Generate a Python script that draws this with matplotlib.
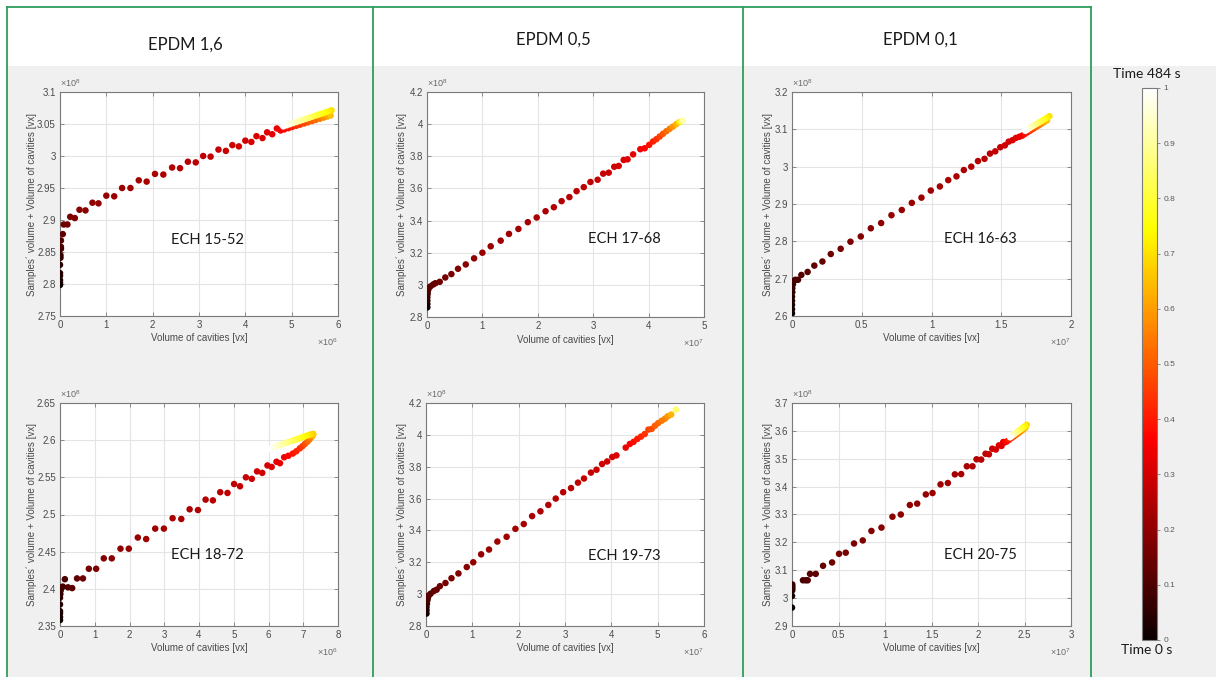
import numpy as np
import matplotlib
matplotlib.use("Agg")
import matplotlib.pyplot as plt
from matplotlib.lines import Line2D
from matplotlib.patches import Rectangle
from matplotlib.ticker import FuncFormatter, MultipleLocator
from matplotlib.cm import ScalarMappable
from matplotlib.colors import Normalize

# ---------------------------------------------------------------------------
# Measurements: volume of cavities (vx), sample + cavities volume (vx) and
# normalised time (0 = 0 s, 1 = 484 s) for each specimen, in time order.
# ---------------------------------------------------------------------------
groups = ["EPDM 1,6", "EPDM 0,5", "EPDM 0,1"]

# ECH 15-52 (cavities in 1e6 vx, total in 1e8 vx)
ech1552_cav = [0, 0, 0, 0, 0, 0, 0.01, 0.01, 0.02, 0.02, 0.02, 0.06, 0.08, 0.16, 0.22,
               0.32, 0.42, 0.55, 0.70, 0.83, 1.00, 1.17, 1.34, 1.52, 1.70, 1.87, 2.05,
               2.23, 2.42, 2.59, 2.76, 2.93, 3.09, 3.25, 3.42, 3.58, 3.72, 3.86, 4.00,
               4.13, 4.24, 4.37, 4.47, 4.58, 4.68,
               4.76, 4.84, 4.93, 5.01, 5.10, 5.18, 5.27, 5.35, 5.44, 5.52, 5.61, 5.69,
               5.77, 5.84,
               5.86, 5.80, 5.73, 5.66, 5.59, 5.52, 5.45, 5.38, 5.31, 5.24, 5.17, 5.10,
               5.03, 4.96, 4.89, 4.82]
ech1552_tot = [2.7985, 2.802, 2.806, 2.813, 2.817, 2.830, 2.841, 2.845, 2.855, 2.858,
               2.868, 2.878, 2.893, 2.893, 2.905, 2.903, 2.916, 2.915, 2.927, 2.926,
               2.938, 2.937, 2.950, 2.950, 2.962, 2.960, 2.972, 2.971, 2.982, 2.981,
               2.991, 2.990, 3.000, 2.999, 3.010, 3.008, 3.017, 3.015, 3.024, 3.022,
               3.031, 3.028, 3.037, 3.034, 3.043,
               3.0399, 3.0416, 3.0435, 3.0453, 3.0472, 3.0489, 3.0509, 3.0526, 3.0546,
               3.0563, 3.0582, 3.0600, 3.0617, 3.0632,
               3.0714, 3.0699, 3.0682, 3.0665, 3.0649, 3.0632, 3.0615, 3.0598, 3.0581,
               3.0564, 3.0547, 3.0530, 3.0514, 3.0497, 3.0480, 3.0463]
ech1552_t = [0.00, 0.01, 0.02, 0.03, 0.04, 0.05, 0.06, 0.07, 0.08, 0.09, 0.10,
             0.13, 0.145, 0.16, 0.17, 0.18, 0.19, 0.195, 0.20, 0.205, 0.21, 0.215, 0.22,
             0.225, 0.23, 0.235, 0.24, 0.245, 0.25, 0.255, 0.26, 0.265, 0.27, 0.275,
             0.28, 0.285, 0.29, 0.295, 0.30, 0.305, 0.31, 0.315, 0.32, 0.33, 0.34,
             0.35, 0.37, 0.39, 0.41, 0.43, 0.45, 0.47, 0.49, 0.51, 0.53, 0.55, 0.58,
             0.61, 0.65,
             0.70, 0.72, 0.74, 0.76, 0.78, 0.80, 0.82, 0.84, 0.86, 0.88, 0.90, 0.92,
             0.94, 0.96, 0.98, 1.00]

# ECH 18-72 (cavities in 1e6 vx, total in 1e8 vx)
ech1872_cav = [0, 0, 0, 0, 0, 0, 0.01, 0.02, 0.04, 0.08, 0.14, 0.23, 0.35,
               0.49, 0.66, 0.83, 1.04, 1.26, 1.49, 1.74, 1.98, 2.24, 2.48, 2.74, 2.99,
               3.24, 3.49, 3.73, 3.97, 4.19, 4.40, 4.61, 4.82, 5.01, 5.18, 5.35, 5.52,
               5.67, 5.82, 5.97, 6.09, 6.23, 6.33, 6.45, 6.57, 6.70, 6.80, 6.90, 6.98,
               7.05, 7.12, 7.18, 7.23, 7.27, 7.29,
               7.28, 7.20, 7.12, 7.04, 6.96, 6.88, 6.80, 6.72, 6.64, 6.56, 6.48, 6.40,
               6.32, 6.24, 6.16, 6.08, 6.00]
ech1872_tot = [2.358, 2.362, 2.367, 2.370, 2.379, 2.388, 2.393, 2.398, 2.402, 2.403,
               2.413, 2.402, 2.401,
               2.414, 2.414, 2.427, 2.427, 2.441, 2.441, 2.454, 2.454, 2.469, 2.467,
               2.481, 2.481, 2.495, 2.494, 2.507, 2.506, 2.520, 2.519, 2.530, 2.529,
               2.541, 2.538, 2.550, 2.548, 2.558, 2.556, 2.566, 2.564, 2.571, 2.569,
               2.577, 2.579, 2.582, 2.585, 2.589, 2.592, 2.595, 2.598, 2.601, 2.604,
               2.606, 2.608,
               2.6085, 2.6075, 2.6063, 2.6050, 2.6037, 2.6024, 2.6011, 2.5998, 2.5985,
               2.5972, 2.5959, 2.5946, 2.5933, 2.5920, 2.5907, 2.5894, 2.5881]
ech1872_t = [0.00, 0.01, 0.02, 0.03, 0.04, 0.05, 0.06, 0.07, 0.08, 0.09, 0.10, 0.11, 0.12,
             0.13, 0.145, 0.16, 0.17, 0.18, 0.19, 0.20, 0.21, 0.215, 0.22, 0.225, 0.23,
             0.235, 0.24, 0.245, 0.25, 0.255, 0.26, 0.265, 0.27, 0.275, 0.28, 0.285, 0.29,
             0.295, 0.30, 0.305, 0.31, 0.32, 0.33, 0.35, 0.37, 0.39, 0.41, 0.43, 0.45,
             0.48, 0.51, 0.54, 0.57, 0.61, 0.65,
             0.68, 0.70, 0.72, 0.74, 0.76, 0.78, 0.80, 0.82, 0.84, 0.86, 0.88, 0.90,
             0.92, 0.94, 0.96, 0.98, 1.00]

# ECH 17-68 (cavities in 1e7 vx, total in 1e8 vx)
ech1768_cav = [0.006, 0.006, 0.006, 0.006, 0.012, 0.018, 0.03, 0.06, 0.11, 0.15,
               0.23, 0.33, 0.44, 0.56, 0.70, 0.85, 1.00, 1.15, 1.33, 1.48, 1.65, 1.82,
               1.98, 2.14, 2.29, 2.43, 2.57, 2.70, 2.83, 2.95, 3.08, 3.18, 3.28, 3.38,
               3.46, 3.55, 3.62, 3.72, 3.85, 3.93, 4.01, 4.08, 4.14, 4.20, 4.26, 4.32,
               4.38, 4.44, 4.50, 4.55, 4.59, 4.62]
ech1768_tot = [2.860, 2.881, 2.902, 2.923, 2.944, 2.965, 2.979, 2.990, 3.002, 3.010,
               3.019, 3.046, 3.067, 3.100, 3.127, 3.165, 3.200, 3.240, 3.275, 3.317,
               3.348, 3.390, 3.419, 3.458, 3.483, 3.521, 3.546, 3.583, 3.608, 3.640,
               3.654, 3.692, 3.698, 3.735, 3.740, 3.777, 3.781, 3.812, 3.844, 3.850,
               3.871, 3.892, 3.906, 3.923, 3.940, 3.956, 3.971, 3.985, 4.000, 4.012,
               4.018, 4.022]
ech1768_t = [0.00, 0.02, 0.04, 0.06, 0.08, 0.10, 0.11, 0.12, 0.13, 0.14, 0.15, 0.16, 0.17,
             0.18, 0.19, 0.20, 0.21, 0.215, 0.22, 0.225, 0.23, 0.235, 0.24, 0.245, 0.25,
             0.255, 0.26, 0.265, 0.27, 0.275, 0.28, 0.285, 0.29, 0.295, 0.30, 0.31, 0.32,
             0.33, 0.35, 0.37, 0.39, 0.41, 0.43, 0.46, 0.49, 0.52, 0.55, 0.59, 0.63,
             0.70, 0.80, 0.92]

# ECH 19-73 (cavities in 1e7 vx, total in 1e8 vx)
ech1973_cav = [0.01, 0.01, 0.01, 0.02, 0.03, 0.04, 0.06, 0.10, 0.17, 0.23, 0.30, 0.42,
               0.55, 0.70, 0.88, 1.02, 1.19, 1.36, 1.54, 1.74, 1.93, 2.11, 2.29, 2.47,
               2.64, 2.80, 2.96, 3.13, 3.28, 3.41, 3.56, 3.68, 3.80, 3.91, 4.02, 4.11,
               4.31, 4.40, 4.48, 4.56, 4.64, 4.72, 4.80, 4.87, 4.94, 5.01, 5.09, 5.16,
               5.22, 5.29, 5.39]
ech1973_tot = [2.878, 2.899, 2.919, 2.940, 2.961, 2.977, 2.992, 3.003, 3.020, 3.028,
               3.050, 3.070, 3.100, 3.130, 3.170, 3.200, 3.250, 3.280, 3.330, 3.360,
               3.410, 3.440, 3.490, 3.520, 3.560, 3.600, 3.640, 3.666, 3.700, 3.726,
               3.763, 3.781, 3.817, 3.833, 3.861, 3.871, 3.920, 3.943, 3.956, 3.974,
               3.989, 4.005, 4.033, 4.037, 4.057, 4.074, 4.089, 4.102, 4.117, 4.127,
               4.158]
ech1973_t = [0.00, 0.02, 0.04, 0.06, 0.08, 0.10, 0.11, 0.12, 0.13, 0.14, 0.15, 0.16, 0.17,
             0.18, 0.19, 0.20, 0.21, 0.215, 0.22, 0.225, 0.23, 0.235, 0.24, 0.245, 0.25,
             0.255, 0.26, 0.265, 0.27, 0.275, 0.28, 0.285, 0.29, 0.295, 0.30, 0.31, 0.34,
             0.36, 0.38, 0.40, 0.42, 0.44, 0.46, 0.48, 0.50, 0.52, 0.54, 0.56, 0.59,
             0.63, 0.85]

# ECH 16-63 (cavities in 1e7 vx, total in 1e8 vx)
ech1663_cav = [0.0, 0.0, 0.0, 0.0, 0.0, 0.002, 0.002, 0.007, 0.012, 0.024, 0.043, 0.067,
               0.112, 0.160, 0.218, 0.278, 0.349, 0.419, 0.493, 0.565, 0.639, 0.713,
               0.787, 0.859, 0.928, 0.995, 1.060, 1.120, 1.179, 1.232, 1.285, 1.333,
               1.380, 1.419, 1.457, 1.493, 1.526, 1.553, 1.581, 1.605, 1.629, 1.650,
               1.668, 1.688, 1.708, 1.728, 1.748, 1.768, 1.788, 1.808, 1.828,
               1.845, 1.828, 1.810, 1.792, 1.774, 1.756, 1.738, 1.720, 1.702, 1.686, 1.672]
ech1663_tot = [2.607, 2.618, 2.630, 2.641, 2.652, 2.664, 2.674, 2.685, 2.694, 2.697,
               2.697, 2.710, 2.718, 2.735, 2.746, 2.766, 2.780, 2.799, 2.813, 2.835,
               2.849, 2.870, 2.884, 2.903, 2.917, 2.936, 2.947, 2.964, 2.974, 2.991,
               3.000, 3.015, 3.021, 3.035, 3.041, 3.052, 3.057, 3.067, 3.071, 3.077,
               3.080, 3.083,
               3.0874, 3.0920, 3.0965, 3.1011, 3.1057, 3.1103, 3.1149, 3.1194, 3.1240,
               3.135, 3.131, 3.127, 3.123, 3.119, 3.115, 3.111, 3.107, 3.103, 3.099, 3.096]
ech1663_t = [0.00, 0.01, 0.02, 0.03, 0.04, 0.05, 0.06, 0.07, 0.08, 0.09, 0.10, 0.11, 0.12,
             0.13, 0.14, 0.15, 0.16, 0.17, 0.18, 0.19, 0.20, 0.205, 0.21, 0.215, 0.22,
             0.225, 0.23, 0.235, 0.24, 0.245, 0.25, 0.255, 0.26, 0.265, 0.27, 0.28, 0.29,
             0.30, 0.31, 0.32, 0.33, 0.34,
             0.38, 0.41, 0.44, 0.47, 0.50, 0.53, 0.57, 0.61, 0.65,
             0.70, 0.73, 0.76, 0.79, 0.82, 0.85, 0.88, 0.91, 0.94, 0.97, 1.00]

# ECH 20-75 (cavities in 1e7 vx, total in 1e8 vx)
ech2075_cav = [0.0, 0.0, 0.003, 0.003, 0.003, 0.003, 0.118, 0.147, 0.169, 0.194, 0.255,
               0.334, 0.431, 0.506, 0.578, 0.667, 0.761, 0.854, 0.962, 1.080, 1.170,
               1.267, 1.346, 1.439, 1.511, 1.597, 1.676, 1.751, 1.819, 1.880, 1.941,
               1.984, 2.034, 2.081, 2.117, 2.153, 2.192, 2.225, 2.253, 2.271, 2.290,
               2.310, 2.335, 2.360, 2.385, 2.410, 2.435, 2.460, 2.485, 2.510,
               2.525, 2.505, 2.485, 2.465, 2.445, 2.425, 2.405, 2.385, 2.365, 2.345]
ech2075_tot = [2.966, 3.008, 3.028, 3.035, 3.042, 3.049, 3.064, 3.064, 3.064, 3.087,
               3.087, 3.116, 3.128, 3.159, 3.163, 3.196, 3.207, 3.241, 3.253, 3.292,
               3.300, 3.334, 3.339, 3.372, 3.377, 3.408, 3.413, 3.444, 3.445, 3.473,
               3.473, 3.498, 3.497, 3.518, 3.516, 3.536, 3.533, 3.548, 3.546, 3.560,
               3.559,
               3.562, 3.568, 3.574, 3.580, 3.586, 3.592, 3.598, 3.604, 3.611,
               3.622, 3.617, 3.612, 3.607, 3.602, 3.597, 3.592, 3.587, 3.582, 3.577]
ech2075_t = [0.00, 0.02, 0.04, 0.05, 0.06, 0.07, 0.09, 0.10, 0.11, 0.12, 0.13, 0.14, 0.15,
             0.16, 0.165, 0.17, 0.175, 0.18, 0.185, 0.19, 0.195, 0.20, 0.205, 0.21, 0.215,
             0.22, 0.225, 0.23, 0.235, 0.24, 0.245, 0.25, 0.26, 0.27, 0.28, 0.29, 0.30,
             0.31, 0.32, 0.33, 0.34,
             0.38, 0.41, 0.44, 0.47, 0.50, 0.53, 0.57, 0.61, 0.65,
             0.70, 0.73, 0.76, 0.79, 0.82, 0.85, 0.88, 0.91, 0.94, 1.00]

time_end_s = 484
cbar_ticks = [0, 0.1, 0.2, 0.3, 0.4, 0.5, 0.6, 0.7, 0.8, 0.9, 1]

# ---------------------------------------------------------------------------
# Layout (pixel boxes: left, top, right, bottom) and styling
# ---------------------------------------------------------------------------
W, H, DPI = 1216, 677, 100
plt.rcParams["mathtext.default"] = "regular"

AX_FONT = "Liberation Sans"
TXT_FONT = "Lato"
GREEN = "#2f9e5c"
PANEL_GRAY = "#f0f0f0"
AX_GRAY = "#7a7a7a"
TICK_TXT = "#4a4a4a"

panels = [
    dict(name="ECH 15-52", cav=ech1552_cav, tot=ech1552_tot, t=ech1552_t, xexp=6,
         xmax=6, xstep=1, ylim=(2.75, 3.1), ystep=0.05,
         box=(60, 92, 338, 316), ylab_x=-0.084, name_pos=(0.529, 0.339)),
    dict(name="ECH 18-72", cav=ech1872_cav, tot=ech1872_tot, t=ech1872_t, xexp=6,
         xmax=8, xstep=1, ylim=(2.35, 2.65), ystep=0.05,
         box=(60, 403, 338, 626), ylab_x=-0.084, name_pos=(0.529, 0.318)),
    dict(name="ECH 17-68", cav=ech1768_cav, tot=ech1768_tot, t=ech1768_t, xexp=7,
         xmax=5, xstep=1, ylim=(2.8, 4.2), ystep=0.2,
         box=(427, 92, 704, 317), ylab_x=-0.073, name_pos=(0.711, 0.347)),
    dict(name="ECH 19-73", cav=ech1973_cav, tot=ech1973_tot, t=ech1973_t, xexp=7,
         xmax=6, xstep=1, ylim=(2.8, 4.2), ystep=0.2,
         box=(426, 403, 704, 626), ylab_x=-0.067, name_pos=(0.712, 0.314)),
    dict(name="ECH 16-63", cav=ech1663_cav, tot=ech1663_tot, t=ech1663_t, xexp=7,
         xmax=2, xstep=0.5, ylim=(2.6, 3.2), ystep=0.1,
         box=(792, 92, 1071, 316), ylab_x=-0.068, name_pos=(0.675, 0.344)),
    dict(name="ECH 20-75", cav=ech2075_cav, tot=ech2075_tot, t=ech2075_t, xexp=7,
         xmax=3, xstep=0.5, ylim=(2.9, 3.7), ystep=0.1,
         box=(792, 403, 1071, 626), ylab_x=-0.068, name_pos=(0.675, 0.318)),
]

fig = plt.figure(figsize=(W / DPI, H / DPI), dpi=DPI, facecolor="white")


def fig_box(l, t, r, b):
    return [l / W, 1 - b / H, (r - l) / W, (b - t) / H]


def fx(x):
    return x / W


def fy(y):
    return 1 - y / H


# grey body under the white header row
fig.add_artist(Rectangle((fx(7), 0), fx(W - 7), fy(66), transform=fig.transFigure,
                         facecolor=PANEL_GRAY, edgecolor="none", zorder=-10))

# green frame of the three material columns
for xg in (7, 373, 743, 1091):
    fig.add_artist(Line2D([fx(xg), fx(xg)], [0, fy(7)], transform=fig.transFigure,
                          color=GREEN, lw=1.3))
fig.add_artist(Line2D([fx(7), fx(1091)], [fy(7), fy(7)], transform=fig.transFigure,
                      color=GREEN, lw=1.3))

for label, (cx, cy) in zip(groups, [(185, 45), (553, 40), (920, 40)]):
    fig.text(fx(cx), fy(cy), label, ha="center", va="center", fontsize=12,
             family=TXT_FONT, color="#1a1a1a")


def sci_formatter(scale):
    return FuncFormatter(lambda v, p: f"{v / scale:.6g}")


for p in panels:
    ax = fig.add_axes(fig_box(*p["box"]))
    ax.set_facecolor("white")
    xs = 10.0 ** p["xexp"]
    ys = 1e8
    cav = np.asarray(p["cav"]) * xs
    tot = np.asarray(p["tot"]) * ys
    ax.scatter(cav, tot, c=p["t"], cmap="hot", vmin=0, vmax=1, s=22,
               linewidths=0, zorder=3)

    ax.set_xlim(0, p["xmax"] * xs)
    ax.set_ylim(p["ylim"][0] * ys, p["ylim"][1] * ys)
    ax.xaxis.set_major_locator(MultipleLocator(p["xstep"] * xs))
    ax.yaxis.set_major_locator(MultipleLocator(p["ystep"] * ys))
    ax.xaxis.set_major_formatter(sci_formatter(xs))
    ax.yaxis.set_major_formatter(sci_formatter(ys))

    ax.grid(True, color="#e4e4e4", lw=0.8)
    ax.set_axisbelow(True)
    for sp in ax.spines.values():
        sp.set_color(AX_GRAY)
        sp.set_linewidth(0.8)
    ax.tick_params(direction="in", length=3, width=0.6, color=AX_GRAY,
                   top=True, right=True, labelsize=7, labelcolor=TICK_TXT, pad=3)
    for lab in ax.get_xticklabels() + ax.get_yticklabels():
        lab.set_family(AX_FONT)

    ax.set_xlabel("Volume of cavities [vx]", fontsize=7, family=AX_FONT, color=TICK_TXT)
    ax.set_ylabel("Samples\u00b4 volume + Volume of cavities [vx]", fontsize=7,
                  family=AX_FONT, color=TICK_TXT)
    ax.xaxis.set_label_coords(0.5, -0.078)
    ax.yaxis.set_label_coords(p["ylab_x"], 0.5)

    # exponent markers
    ax.text(0.0, 1.012, r"$\times10^{8}$", transform=ax.transAxes, ha="left",
            va="bottom", fontsize=6.5, family=AX_FONT, color="#6a6a6a")
    ax.text(1.0, -0.118, rf"$\times10^{{{p['xexp']}}}$", transform=ax.transAxes,
            ha="right", va="center", fontsize=6.5, family=AX_FONT, color="#6a6a6a")

    ax.text(p["name_pos"][0], p["name_pos"][1], p["name"], transform=ax.transAxes,
            ha="center", va="center", fontsize=10.5, family=TXT_FONT, color="#1a1a1a")

# colour bar for time
cax = fig.add_axes(fig_box(1142, 88, 1157, 640))
cb = fig.colorbar(ScalarMappable(norm=Normalize(0, 1), cmap="hot"), cax=cax,
                  ticks=cbar_ticks)
cb.ax.yaxis.set_major_formatter(FuncFormatter(lambda v, p: f"{v:.6g}"))
cb.outline.set_edgecolor(AX_GRAY)
cb.outline.set_linewidth(0.8)
cax.tick_params(direction="out", length=2.5, width=0.6, color=AX_GRAY,
                labelsize=6, labelcolor="#5a5a5a", pad=2)
for lab in cax.get_yticklabels():
    lab.set_family(AX_FONT)

fig.text(fx(1147), fy(74), f"Time {time_end_s} s", ha="center", va="center",
         fontsize=10, family=TXT_FONT, color="#1a1a1a")
fig.text(fx(1147), fy(650), "Time 0 s", ha="center", va="center",
         fontsize=10, family=TXT_FONT, color="#1a1a1a")

fig.savefig("out.png", dpi=DPI, facecolor="white")
